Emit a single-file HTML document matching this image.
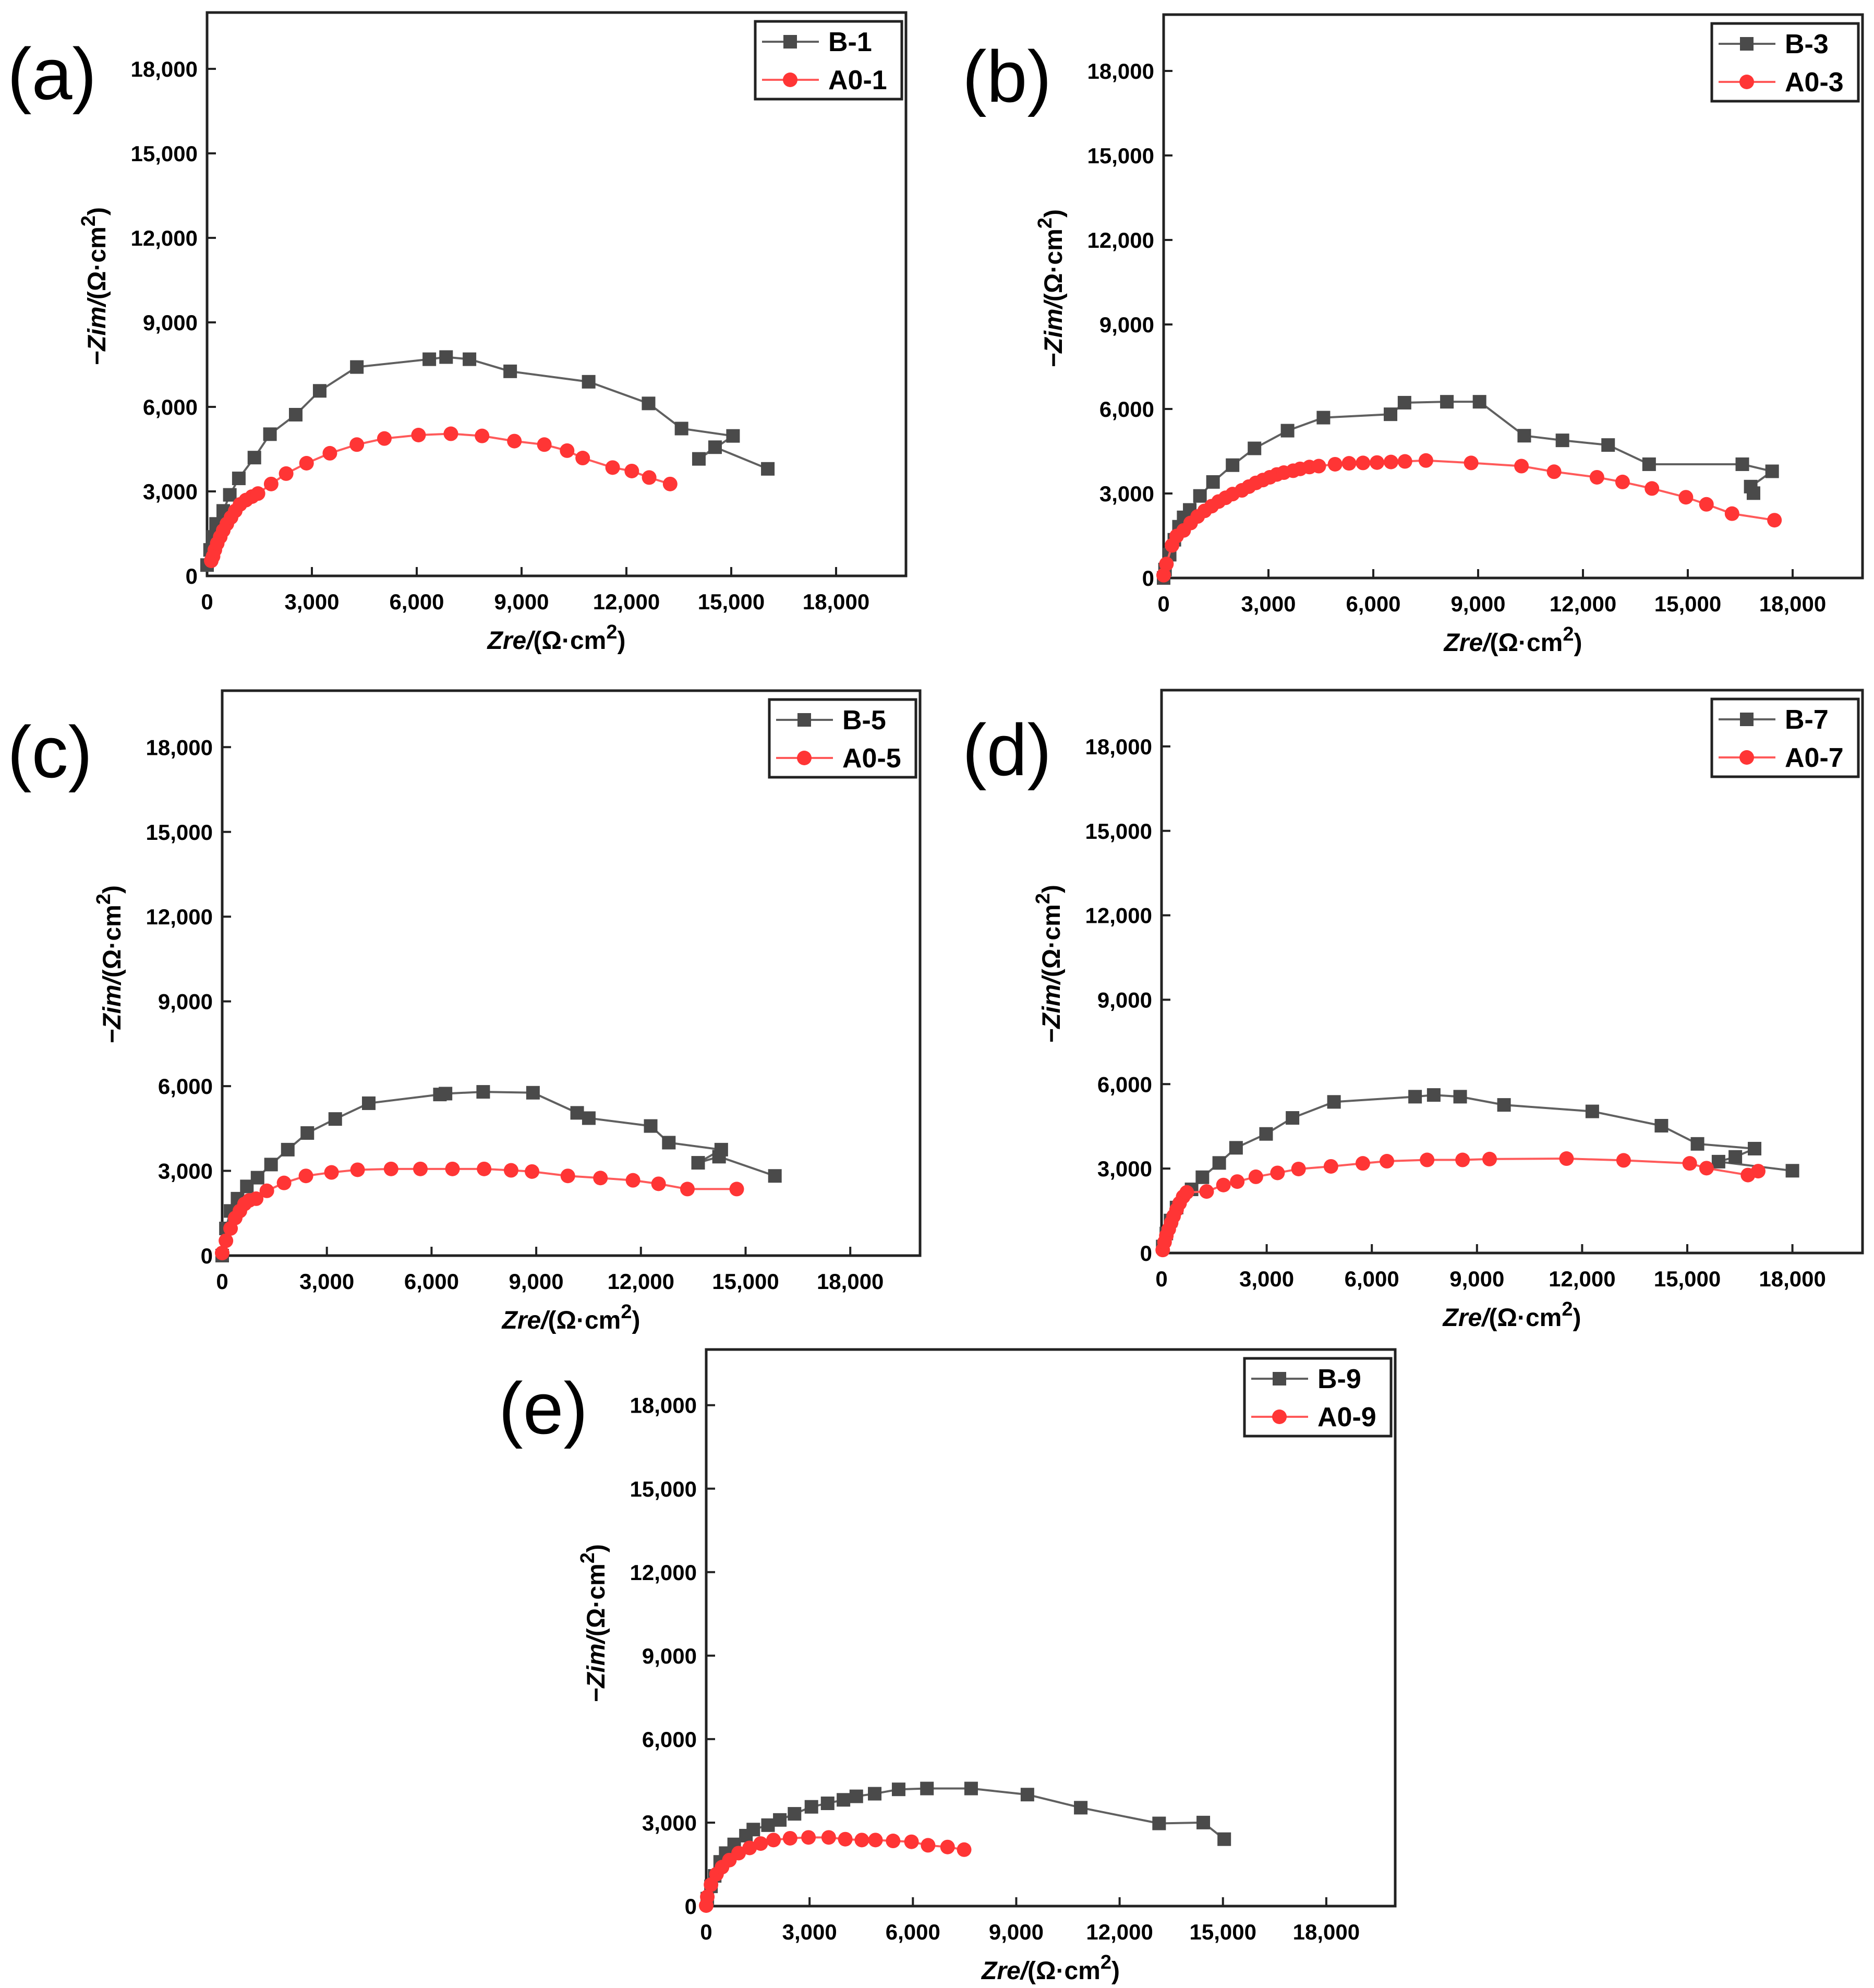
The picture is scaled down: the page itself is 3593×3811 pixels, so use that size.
<!DOCTYPE html>
<html><head><meta charset="utf-8"><style>
html,body{margin:0;padding:0;background:#fff;}
svg{display:block;}
text{font-family:"Liberation Sans",Arial,sans-serif;}
</style></head><body>
<svg id="fig" width="3593" height="3811" viewBox="0 0 3593 3811" xmlns="http://www.w3.org/2000/svg"></svg>
<script>
const xTicks=[0,3000,6000,9000,12000,15000,18000];
const yTicks=[0,3000,6000,9000,12000,15000,18000];
const tickLabels=["0","3,000","6,000","9,000","12,000","15,000","18,000"];
const panelLabels=["(a)","(b)","(c)","(d)","(e)"];
const legendB=["B-1","B-3","B-5","B-7","B-9"];
const legendA=["A0-1","A0-3","A0-5","A0-7","A0-9"];

const b1x=[0,86,171,257,463,651,909,1354,1800,2537,3223,4286,6360,6840,7509,8674,10920,12634,13577,15051,14074,14537,16046];
const b1y=[385,923,1385,1846,2308,2877,3462,4200,5031,5723,6569,7415,7692,7769,7692,7262,6892,6123,5231,4969,4154,4569,3800];
const a1x=[120,171,223,291,377,463,566,686,806,943,1114,1286,1457,1834,2263,2846,3514,4286,5074,6051,6977,7869,8794,9651,10303,10749,11606,12154,12651,13251];
const a1y=[538,692,923,1154,1385,1615,1846,2077,2308,2538,2692,2815,2923,3262,3631,4000,4354,4661,4877,5000,5046,4969,4785,4661,4446,4185,3846,3723,3492,3262];

const b3x=[0,40,173,307,440,573,747,1040,1413,1973,2600,3546,4573,6493,6893,8106,9040,10320,11413,12720,13893,16560,17413,16800,16880];
const b3y=[0,300,827,1357,1820,2152,2416,2913,3409,4005,4601,5230,5693,5812,6223,6256,6256,5051,4886,4720,4038,4038,3787,3244,3012];
const a3x=[0,80,240,373,573,773,973,1173,1373,1573,1773,1973,2240,2440,2640,2840,3040,3240,3440,3706,3906,4173,4440,4906,5306,5706,6106,6506,6906,7506,8800,10240,11173,12400,13133,13973,14946,15533,16266,17480];
const a3y=[99,497,1159,1490,1688,1953,2185,2383,2549,2714,2847,2979,3111,3244,3376,3476,3575,3674,3740,3807,3873,3939,3972,4038,4071,4085,4098,4118,4138,4171,4085,3972,3773,3575,3409,3178,2866,2615,2284,2052];

const b5x=[0,107,240,440,707,1013,1400,1880,2440,3240,4200,6240,6400,7480,8907,10173,10507,12280,12800,14303,13640,14240,15840];
const b5y=[0,961,1581,2015,2449,2759,3224,3751,4340,4836,5394,5704,5735,5797,5766,5053,4867,4588,3999,3751,3286,3503,2821];
const a5x=[0,107,240,373,507,640,773,973,1280,1773,2400,3133,3880,4840,5680,6600,7506,8280,8880,9906,10840,11773,12506,13333,14746];
const a5y=[93,527,961,1333,1581,1829,1953,2015,2294,2573,2821,2945,3038,3069,3069,3069,3069,3019,2976,2821,2747,2666,2542,2356,2356];

const b7x=[34,137,257,429,857,1166,1646,2126,2983,3737,4920,7234,7766,8520,9771,12290,14262,15291,16920,16371,15891,18000];
const b7y=[231,692,1154,1615,2261,2692,3200,3738,4231,4800,5369,5554,5615,5554,5262,5031,4523,3877,3708,3415,3246,2923];
const a7x=[34,86,137,206,274,343,429,514,617,720,1286,1766,2160,2691,3309,3909,4834,5743,6429,7577,8589,9360,11554,13183,15069,15549,16731,17023];
const a7y=[108,385,615,846,1077,1308,1538,1769,2000,2154,2185,2415,2538,2708,2846,2985,3077,3185,3262,3308,3308,3338,3354,3292,3185,3015,2769,2908];

const b9x=[32,139,246,406,566,812,1153,1367,1794,2136,2563,3054,3524,3984,4357,4891,5586,6408,7690,9324,10872,13147,14429,15037];
const b9y=[270,710,1086,1589,1903,2217,2531,2751,2908,3096,3316,3567,3693,3818,3944,4038,4195,4226,4226,4007,3536,2971,3002,2405];
const a9x=[0,32,139,299,459,673,940,1260,1581,1954,2435,2969,3556,4037,4518,4913,5425,5959,6440,7006,7487];
const a9y=[19,333,772,1149,1400,1652,1903,2091,2248,2374,2437,2468,2468,2405,2374,2374,2342,2311,2185,2123,2028];

const panels=[
 {L:397,R:1737,T:24,B:1104,bx:b1x,by:b1y,ax:a1x,ay:a1y,lx:14,ly:190},
 {L:2231,R:3571,T:28,B:1108,bx:b3x,by:b3y,ax:a3x,ay:a3y,lx:1845,ly:195},
 {L:426,R:1764,T:1324,B:2407,bx:b5x,by:b5y,ax:a5x,ay:a5y,lx:14,ly:1490},
 {L:2227,R:3571,T:1323,B:2402,bx:b7x,by:b7y,ax:a7x,ay:a7y,lx:1845,ly:1486},
 {L:1354,R:2675,T:2587,B:3654,bx:b9x,by:b9y,ax:a9x,ay:a9y,lx:956,ly:2748}
];
const NS="http://www.w3.org/2000/svg";
const svg=document.getElementById('fig');
function mk(tag,attrs,parent,txt){const e=document.createElementNS(NS,tag);for(const k in attrs)e.setAttribute(k,attrs[k]);if(txt!==undefined)e.textContent=txt;(parent||svg).appendChild(e);return e;}
const GREY="#4a4a4a",GLINE="#606060",RED="#ff3535";
panels.forEach((p,i)=>{
 const g=mk('g',{});
 
 
 const sx=v=>p.L+(v/20000)*(p.R-p.L);
 const sy=v=>p.B-(v/20000)*(p.B-p.T);
 const lbl=mk('text',{x:p.lx,y:p.ly,'font-size':140},g,panelLabels[i]);
 
 
 xTicks.forEach((v,k)=>{
  const t=mk('line',{x1:sx(v),x2:sx(v),y1:p.B,y2:p.B-17,stroke:'#222','stroke-width':4},g);
  
  
  const tl=mk('text',{x:sx(v),y:p.B+64,'font-size':42,'font-weight':'bold','text-anchor':'middle'},g,tickLabels[k]);
  
  
 });
 yTicks.forEach((v,k)=>{
  const t=mk('line',{x1:p.L,x2:p.L+17,y1:sy(v),y2:sy(v),stroke:'#222','stroke-width':4},g);
  
  
  const tl=mk('text',{x:p.L-18,y:sy(v)+15,'font-size':42,'font-weight':'bold','text-anchor':'end'},g,tickLabels[k]);
  
  
 });
 const fr=mk('rect',{x:p.L,y:p.T,width:p.R-p.L,height:p.B-p.T,fill:'none',stroke:'#222','stroke-width':5},g);
 
 
 const cx=(p.L+p.R)/2;
 const xt=mk('text',{x:cx,y:p.B+140,'font-size':48,'font-weight':'bold','text-anchor':'middle'},g);
 
 
 xt.innerHTML='<tspan font-style="italic">Zre/</tspan>(Ω·cm<tspan dy="-20" font-size="38">2</tspan><tspan dy="20">)</tspan>';
 const ycx=p.L-195, ycy=p.T+525;
 const yt=mk('text',{x:ycx,y:ycy,'font-size':48,'font-weight':'bold','text-anchor':'middle',transform:`rotate(-90 ${ycx} ${ycy})`},g);
 
 
 yt.innerHTML='<tspan font-style="italic">−Zim/</tspan>(Ω·cm<tspan dy="-20" font-size="38">2</tspan><tspan dy="20">)</tspan>';
 const pb=p.bx.map((v,k)=>sx(v)+','+sy(p.by[k])).join(' ');
 const lb=mk('polyline',{points:pb,fill:'none',stroke:GLINE,'stroke-width':4},g);
 
 
 p.bx.forEach((v,k)=>{
  const m=mk('rect',{x:sx(v)-13,y:sy(p.by[k])-13,width:26,height:26,fill:GREY},g);
  
  
 });
 const pa=p.ax.map((v,k)=>sx(v)+','+sy(p.ay[k])).join(' ');
 const la=mk('polyline',{points:pa,fill:'none',stroke:'#ff5a5a','stroke-width':4},g);
 
 
 p.ax.forEach((v,k)=>{
  const m=mk('circle',{cx:sx(v),cy:sy(p.ay[k]),r:14,fill:RED},g);
  
  
 });
 const lg=mk('g',{},g);
 
 
 const bx=p.R-8-281, by=p.T+17;
 mk('rect',{x:bx,y:by,width:281,height:149,fill:'#fff',stroke:'#222','stroke-width':5},lg);
 const e1=mk('g',{},lg);
 
 
 mk('line',{x1:bx+13,x2:bx+122,y1:by+39,y2:by+39,stroke:GLINE,'stroke-width':4},e1);
 mk('rect',{x:bx+54,y:by+26,width:26,height:26,fill:GREY},e1);
 mk('text',{x:bx+140,y:by+57,'font-size':52,'font-weight':'bold'},e1,legendB[i]);
 const e2=mk('g',{},lg);
 
 
 mk('line',{x1:bx+13,x2:bx+122,y1:by+112,y2:by+112,stroke:'#ff5a5a','stroke-width':4},e2);
 mk('circle',{cx:bx+67,cy:by+112,r:14,fill:RED},e2);
 mk('text',{x:bx+140,y:by+130,'font-size':52,'font-weight':'bold'},e2,legendA[i]);
});
</script>
</body></html>
